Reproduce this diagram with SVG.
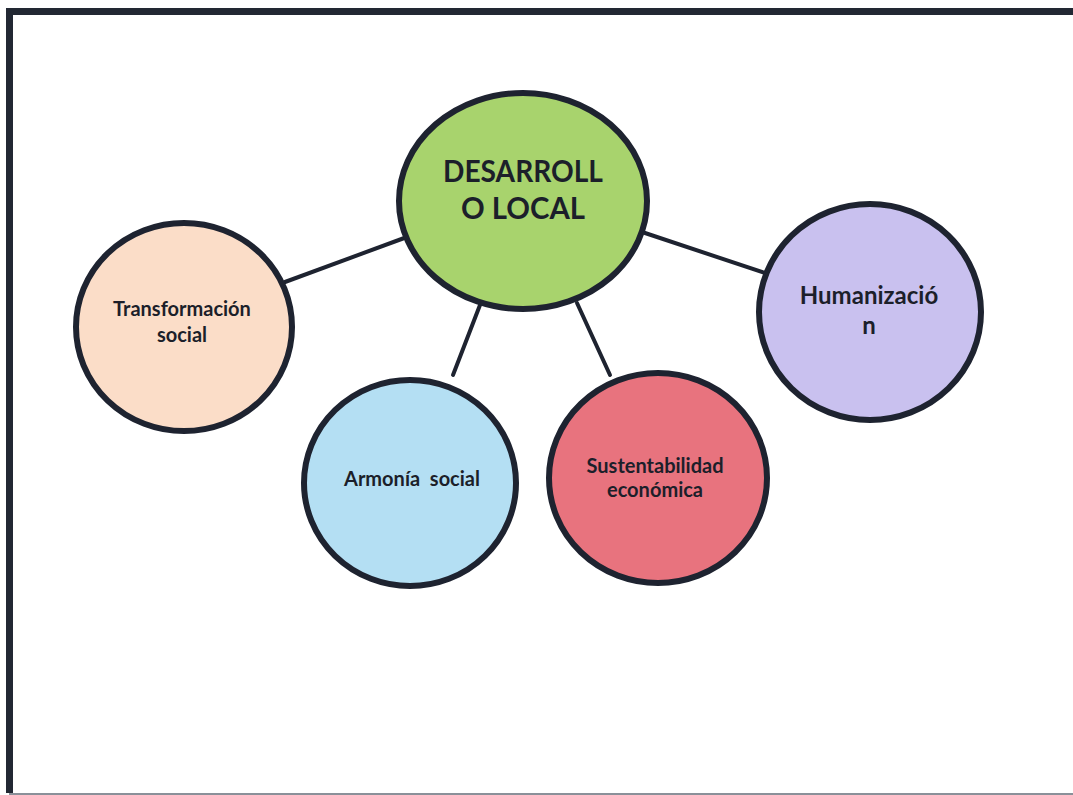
<svg xmlns="http://www.w3.org/2000/svg" width="1073" height="795" viewBox="0 0 1073 795">
  <style>
    .node { stroke: #1e2330; stroke-width: 6; }
    .link { stroke: #1e2330; stroke-width: 4; stroke-linecap: round; fill: none; }
    .lbl { font-family: Lato, "Open Sans", "Liberation Sans", sans-serif; font-weight: bold; fill: #1c1f2a; text-anchor: middle; }
  </style>
  <rect x="0" y="0" width="1073" height="795" fill="#ffffff"/>
  <!-- page frame -->
  <path d="M1073 11.5 H9.5 V793" fill="none" stroke="#222833" stroke-width="7"/>
  <line x1="9" y1="794" x2="1073" y2="794" stroke="#8a9099" stroke-width="2"/>

  <g id="connectors">
    <line class="link" x1="407" y1="237" x2="285" y2="282"/>
    <line class="link" x1="645" y1="233" x2="765" y2="273"/>
    <line class="link" x1="480" y1="305" x2="453" y2="375"/>
    <line class="link" x1="577" y1="303" x2="610" y2="375"/>
  </g>

  <g id="node-desarrollo">
    <ellipse class="node" cx="523" cy="201" rx="124" ry="108" fill="#a8d36d"/>
    <text class="lbl" x="523" y="182" font-size="30" textLength="160" lengthAdjust="spacingAndGlyphs">DESARROLL</text>
    <text class="lbl" x="523" y="219" font-size="30" textLength="124" lengthAdjust="spacingAndGlyphs">O LOCAL</text>
  </g>

  <g id="node-transformacion">
    <ellipse class="node" cx="184" cy="327" rx="108" ry="104" fill="#fbddc8"/>
    <text class="lbl" x="182" y="316" font-size="20">Transformación</text>
    <text class="lbl" x="182" y="342" font-size="20">social</text>
  </g>

  <g id="node-armonia">
    <ellipse class="node" cx="410" cy="483" rx="106" ry="103" fill="#b4dff3"/>
    <text class="lbl" x="412" y="486" font-size="20" xml:space="preserve">Armonía  social</text>
  </g>

  <g id="node-sustentabilidad">
    <ellipse class="node" cx="658" cy="478" rx="109" ry="105" fill="#e8737e"/>
    <text class="lbl" x="655" y="473" font-size="20">Sustentabilidad</text>
    <text class="lbl" x="655" y="497" font-size="20">económica</text>
  </g>

  <g id="node-humanizacion">
    <ellipse class="node" cx="870" cy="312" rx="111" ry="108" fill="#c9c1ef"/>
    <text class="lbl" x="869" y="304" font-size="24">Humanizació</text>
    <text class="lbl" x="869" y="334" font-size="24">n</text>
  </g>
</svg>
